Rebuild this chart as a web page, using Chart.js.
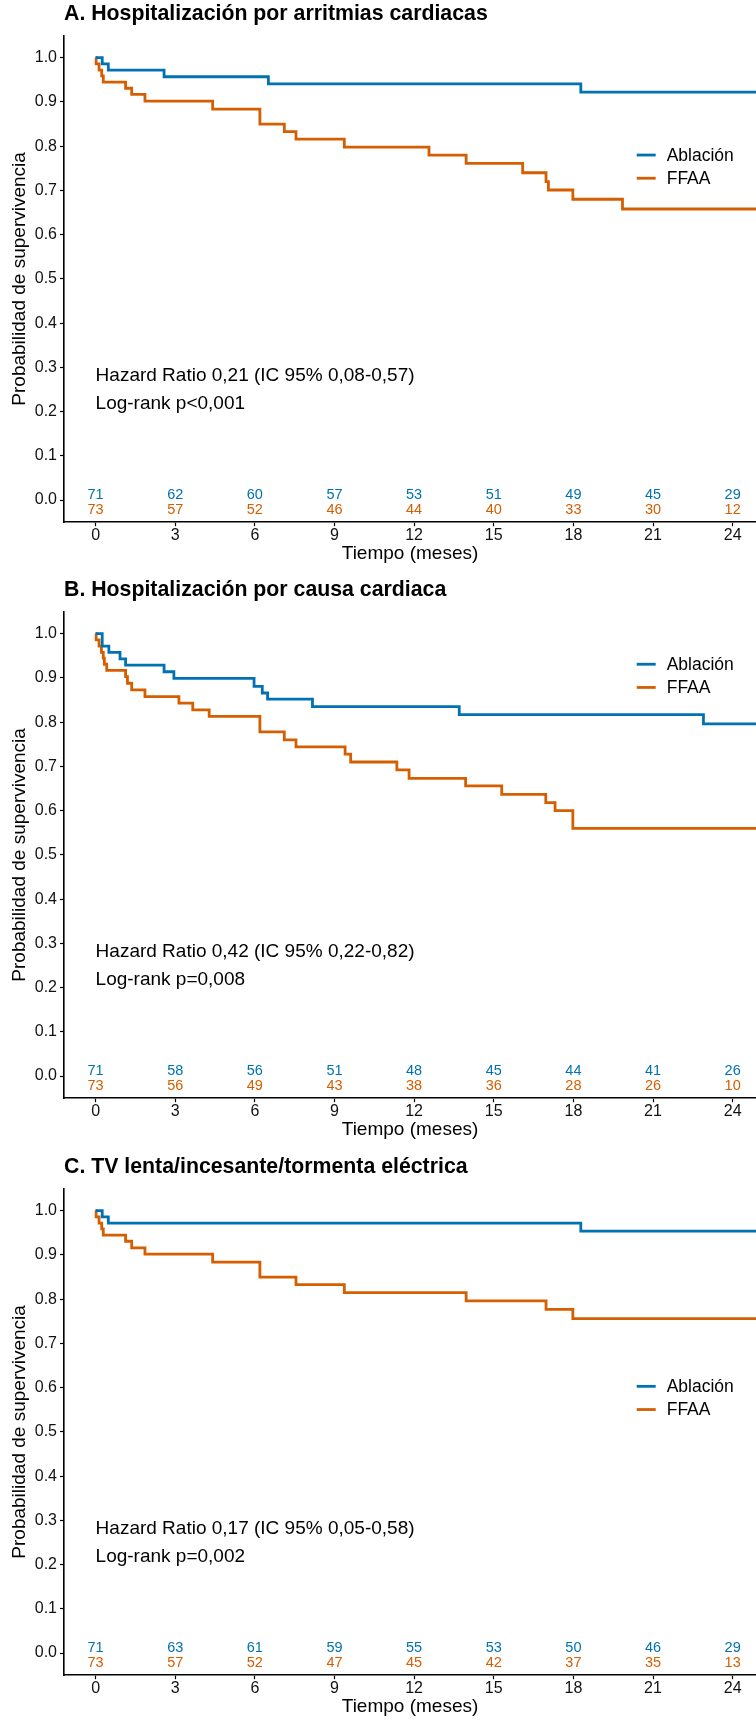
<!DOCTYPE html>
<html>
<head>
<meta charset="utf-8">
<script src="https://cdn.jsdelivr.net/npm/chart.js@4.4.1/dist/chart.umd.min.js"></script>
<style>
  html, body { margin: 0; padding: 0; background: #fff; overflow: hidden; }
  body { width: 756px; height: 1722px; position: relative; }
  .panel { position: absolute; left: 0; width: 756px; height: 576px; }
</style>
</head>
<body>
<div class="panel" style="top:0px"><canvas id="kmA"></canvas></div>
<div class="panel" style="top:576px"><canvas id="kmB"></canvas></div>
<div class="panel" style="top:1153px"><canvas id="kmC"></canvas></div>
<script>
// ---- Shared axes ----
const timeTicks = [0, 3, 6, 9, 12, 15, 18, 21, 24];
const survTicks = [0, 0.1, 0.2, 0.3, 0.4, 0.5, 0.6, 0.7, 0.8, 0.9, 1.0];
const groupNames = ['Ablación', 'FFAA'];

// ---- A. Hospitalización por arritmias cardiacas ----
const timeA_abl  = [0, 0.25, 0.48, 2.58, 6.51, 18.28, 25];
const survA_abl  = [1, 0.986, 0.972, 0.957, 0.941, 0.922, 0.922];
const timeA_ffaa = [0, 0.02, 0.13, 0.23, 0.29, 1.13, 1.36, 1.86, 4.41, 6.19, 7.11, 7.55, 9.37, 12.56, 13.96, 16.09, 16.97, 17.06, 17.98, 19.85, 25];
const survA_ffaa = [1, 0.986, 0.972, 0.959, 0.945, 0.931, 0.917, 0.902, 0.884, 0.850, 0.833, 0.816, 0.798, 0.780, 0.761, 0.740, 0.720, 0.701, 0.680, 0.658, 0.658];
const riskA_abl  = [71, 62, 60, 57, 53, 51, 49, 45, 29];
const riskA_ffaa = [73, 57, 52, 46, 44, 40, 33, 30, 12];

// ---- B. Hospitalización por causa cardiaca ----
const timeB_abl  = [0, 0.25, 0.50, 0.92, 1.13, 2.58, 2.95, 5.97, 6.28, 6.48, 8.17, 13.70, 22.90, 25];
const survB_abl  = [1, 0.972, 0.958, 0.943, 0.929, 0.914, 0.899, 0.881, 0.866, 0.852, 0.835, 0.817, 0.796, 0.796];
const timeB_ffaa = [0, 0.02, 0.13, 0.22, 0.29, 0.33, 0.42, 1.13, 1.20, 1.36, 1.86, 3.14, 3.66, 4.28, 6.19, 7.11, 7.55, 9.40, 9.61, 11.35, 11.81, 13.94, 15.30, 16.96, 17.31, 17.98, 25];
const survB_ffaa = [1, 0.986, 0.972, 0.958, 0.945, 0.931, 0.917, 0.903, 0.888, 0.873, 0.858, 0.843, 0.828, 0.813, 0.778, 0.760, 0.744, 0.728, 0.710, 0.692, 0.673, 0.656, 0.637, 0.618, 0.600, 0.560, 0.560];
const riskB_abl  = [71, 58, 56, 51, 48, 45, 44, 41, 26];
const riskB_ffaa = [73, 56, 49, 43, 38, 36, 28, 26, 10];

// ---- C. TV lenta/incesante/tormenta eléctrica ----
const timeC_abl  = [0, 0.25, 0.48, 18.28, 25];
const survC_abl  = [1, 0.986, 0.972, 0.954, 0.954];
const timeC_ffaa = [0, 0.02, 0.13, 0.23, 0.29, 1.13, 1.36, 1.86, 4.41, 6.19, 7.55, 9.37, 13.96, 16.97, 17.98, 25];
const survC_ffaa = [1, 0.986, 0.972, 0.959, 0.945, 0.931, 0.916, 0.902, 0.884, 0.850, 0.833, 0.815, 0.796, 0.777, 0.756, 0.756];
const riskC_abl  = [71, 63, 61, 59, 55, 53, 50, 46, 29];
const riskC_ffaa = [73, 57, 52, 47, 45, 42, 37, 35, 13];

// ---- Style ----
const FONT = "'Liberation Sans', Arial, Helvetica, sans-serif";
const BLUE = '#0072B2';
const ORANGE = '#D55E00';
Chart.defaults.font.family = FONT;
Chart.defaults.color = '#000';

const zip = (xs, ys) => xs.map((t, i) => ({ x: t, y: ys[i] }));

// Title, hazard-ratio note, numbers at risk and legend
const kmExtras = {
  id: 'kmExtras',
  afterDatasetsDraw(chart, args, o) {
    const { ctx, chartArea, scales: { x, y } } = chart;
    ctx.save();
    ctx.textBaseline = 'middle';
    ctx.fillStyle = '#000';

    ctx.textAlign = 'left';
    ctx.font = `bold 21.3px ${FONT}`;
    ctx.fillText(o.title, chartArea.left, 14.5);

    ctx.font = `19px ${FONT}`;
    ctx.fillText(o.hr, x.getPixelForValue(0), y.getPixelForValue(0.28));
    ctx.fillText(o.logrank, x.getPixelForValue(0), y.getPixelForValue(0.218));

    ctx.textAlign = 'center';
    ctx.font = `14.5px ${FONT}`;
    timeTicks.forEach((t, i) => {
      const px = x.getPixelForValue(t);
      ctx.fillStyle = BLUE;
      ctx.fillText(String(o.riskAbl[i]), px, y.getPixelForValue(0.012));
      ctx.fillStyle = ORANGE;
      ctx.fillText(String(o.riskFfaa[i]), px, y.getPixelForValue(-0.023));
    });

    // legend keys
    const lx = chartArea.right - 119.3;
    const ly = y.getPixelForValue(o.legendY);
    [BLUE, ORANGE].forEach((c, i) => {
      const yy = ly + i * 23.2;
      ctx.strokeStyle = c;
      ctx.lineWidth = 2.8;
      ctx.beginPath();
      ctx.moveTo(lx, yy);
      ctx.lineTo(lx + 19, yy);
      ctx.stroke();
      ctx.fillStyle = '#000';
      ctx.textAlign = 'left';
      ctx.font = `17.5px ${FONT}`;
      ctx.fillText(groupNames[i], lx + 30, yy + 1);
    });
    ctx.restore();
  }
};

function axisCommon() {
  return {
    grid: { drawOnChartArea: false, drawTicks: true, tickLength: 4, color: '#000', tickWidth: 1.2 },
    border: { display: true, color: '#000', width: 1.6 },
  };
}

function makeKM(id, cfg) {
  new Chart(document.getElementById(id), {
    type: 'line',
    data: {
      datasets: [
        { label: groupNames[0], data: zip(cfg.tAbl, cfg.sAbl), borderColor: BLUE },
        { label: groupNames[1], data: zip(cfg.tFfaa, cfg.sFfaa), borderColor: ORANGE },
      ].map(d => Object.assign(d, { stepped: 'before', borderWidth: 2.8, pointRadius: 0, fill: false, tension: 0 }))
    },
    options: {
      responsive: true,
      maintainAspectRatio: false,
      animation: false,
      layout: { padding: { top: 35.6, right: 0, bottom: 0, left: 0 } },
      plugins: {
        legend: { display: false },
        tooltip: { enabled: false },
        kmExtras: {
          title: cfg.title, hr: cfg.hr, logrank: cfg.logrank,
          riskAbl: cfg.rAbl, riskFfaa: cfg.rFfaa, legendY: cfg.legendY
        }
      },
      scales: {
        x: Object.assign(axisCommon(), {
          type: 'linear', min: -1.19, max: 24.88,
          afterBuildTicks: s => { s.ticks = timeTicks.map(v => ({ value: v })); },
          afterFit: s => { s.height = 53.8; },
          ticks: { padding: 0, color: '#111', font: { size: 16 }, maxRotation: 0, autoSkip: false, callback: v => String(v) },
          title: { display: true, text: 'Tiempo (meses)', color: '#000', font: { size: 19 }, padding: { top: 0, bottom: 10.6 } }
        }),
        y: Object.assign(axisCommon(), {
          type: 'linear', min: -0.05, max: 1.05,
          afterBuildTicks: s => { s.ticks = survTicks.map(v => ({ value: v })); },
          afterFit: s => { s.width = 64; },
          ticks: { padding: 3, color: '#111', font: { size: 16 }, callback: v => Number(v).toFixed(1) },
          title: { display: true, text: 'Probabilidad de supervivencia', color: '#000', font: { size: 19 }, padding: { top: 8.6, bottom: 0 } }
        })
      }
    },
    plugins: [kmExtras]
  });
}

makeKM('kmA', {
  title: 'A. Hospitalización por arritmias cardiacas',
  hr: 'Hazard Ratio 0,21 (IC 95% 0,08-0,57)', logrank: 'Log-rank p<0,001',
  tAbl: timeA_abl, sAbl: survA_abl, tFfaa: timeA_ffaa, sFfaa: survA_ffaa,
  rAbl: riskA_abl, rFfaa: riskA_ffaa, legendY: 0.780
});
makeKM('kmB', {
  title: 'B. Hospitalización por causa cardiaca',
  hr: 'Hazard Ratio 0,42 (IC 95% 0,22-0,82)', logrank: 'Log-rank p=0,008',
  tAbl: timeB_abl, sAbl: survB_abl, tFfaa: timeB_ffaa, sFfaa: survB_ffaa,
  rAbl: riskB_abl, rFfaa: riskB_ffaa, legendY: 0.931
});
makeKM('kmC', {
  title: 'C. TV lenta/incesante/tormenta eléctrica',
  hr: 'Hazard Ratio 0,17 (IC 95% 0,05-0,58)', logrank: 'Log-rank p=0,002',
  tAbl: timeC_abl, sAbl: survC_abl, tFfaa: timeC_ffaa, sFfaa: survC_ffaa,
  rAbl: riskC_abl, rFfaa: riskC_ffaa, legendY: 0.603
});
</script>
</body>
</html>
